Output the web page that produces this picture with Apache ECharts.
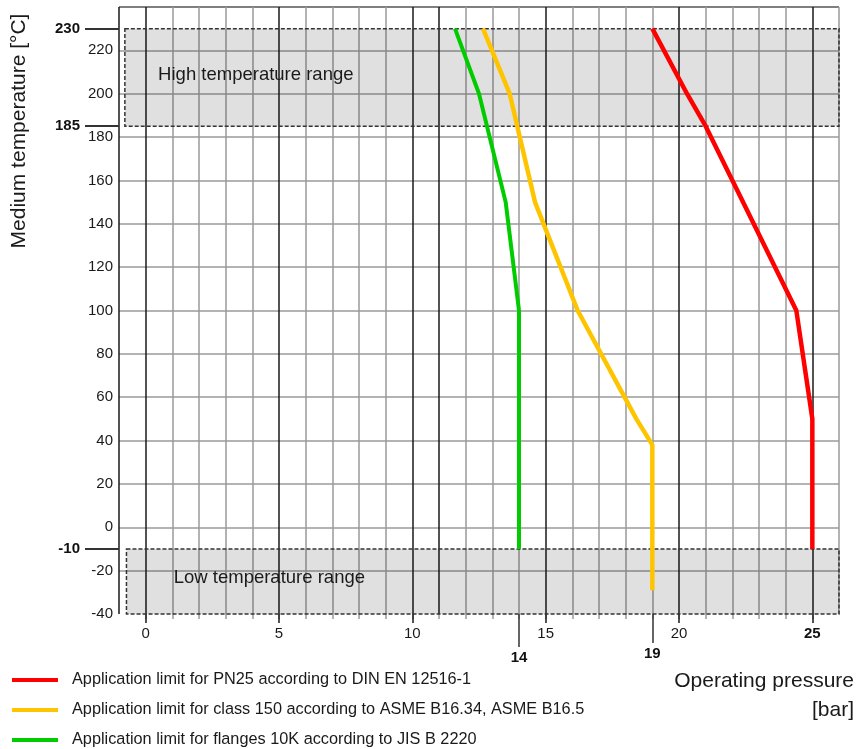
<!DOCTYPE html>
<html><head><meta charset="utf-8">
<script src="https://cdn.jsdelivr.net/npm/echarts@6/dist/echarts.min.js"></script>
<style>html,body{margin:0;padding:0;background:#fff}#c{width:856px;height:749px}</style>
</head><body><div id="c"></div>
<script>
// ---- data ----
const seriesNames = [
  'Application limit for PN25 according to DIN EN 12516-1',
  'Application limit for class 150 according to ASME B16.34, ASME B16.5',
  'Application limit for flanges 10K according to JIS B 2220'
];
const pn25Temp = [-10, 50, 100, 150, 185, 200, 230];
const pn25Pres = [25, 25, 24.4, 22.4, 21, 20.3, 19];
const asmeTemp = [-29, 38, 50, 100, 150, 200, 230];
const asmePres = [19, 19, 18.4, 16.2, 14.6, 13.65, 12.65];
const jisTemp = [-10, 100, 150, 200, 230];
const jisPres = [14, 14, 13.5, 12.5, 11.6];
const xTickLabels = [0, 5, 10, 15, 20, 25];
const xBoldLabels = [25];
const xMarked14 = [14];
const xMarked19 = [19];
const yMarked = [230, 185, -10];
const highRange = [185, 230];
const lowRange = [-40, -10];
const bandLabels = ['High temperature range', 'Low temperature range'];
const yTitle = 'Medium temperature [°C]';
const xTitle = ['Operating pressure', '[bar]'];
const colors = ['#ff0000', '#ffc400', '#00cc00'];

// ---- chart ----
const FONT = '"Liberation Sans", Arial, Helvetica, sans-serif';
const xMin = -1, xMax = 26, yMin = -40, yMax = 240;
const darkV = [-1, 0, 5, 10, 11, 15, 20, 25];
const vColors = [];
for (let v = xMin; v <= xMax; v++) vColors.push(darkV.includes(v) ? '#1a1a1a' : '#9a9a9a');
const hColors = [];
for (let v = yMin; v <= yMax; v += 20) hColors.push(v === yMin ? 'rgba(0,0,0,0)' : (v === yMax ? '#555' : '#9a9a9a'));
const minorTicks = [];
for (let v = 0; v <= 25; v++) minorTicks.push(v);

const zip = (xs, ys) => xs.map((x, i) => [x, ys[i]]);

const chart = echarts.init(document.getElementById('c'), null, {renderer: 'canvas'});
const baseX = {type: 'value', min: xMin, max: xMax, position: 'bottom', gridIndex: 0,
  axisLine: {show: false, onZero: false}, splitLine: {show: false}, axisLabel: {show: false}, axisTick: {show: false}};
const baseY = {type: 'value', min: yMin, max: yMax, position: 'left', gridIndex: 0,
  axisLine: {show: false, onZero: false}, splitLine: {show: false}, axisLabel: {show: false}, axisTick: {show: false}};

chart.setOption({
  animation: false,
  textStyle: {fontFamily: FONT},
  grid: {left: 119, top: 7, width: 720, height: 607, containLabel: false, outerBoundsMode: 'none'},
  legend: {
    orient: 'vertical', left: 12, top: 672, height: 100, padding: 0, itemWidth: 46, itemHeight: 4, itemGap: 14,
    icon: 'rect', selectedMode: false,
    textStyle: {fontFamily: FONT, fontSize: 16.3, color: '#1a1a1a', lineHeight: 16, padding: [0, 0, 0, 9]},
    data: seriesNames
  },
  xAxis: [
    Object.assign({}, baseX, {interval: 1, splitLine: {show: true, lineStyle: {color: vColors, width: 1.5}}}),
    Object.assign({}, baseX, {axisTick: {show: true, customValues: minorTicks, length: 5, lineStyle: {color: '#9a9a9a', width: 1.5}}}),
    Object.assign({}, baseX, {
      axisTick: {show: true, customValues: xTickLabels, length: 9, lineStyle: {color: '#1a1a1a', width: 1.5}},
      axisLabel: {show: true, customValues: xTickLabels, margin: 12, fontSize: 15, color: '#1a1a1a', fontFamily: FONT,
        formatter: v => xBoldLabels.includes(v) ? '{b|' + v + '}' : String(v),
        rich: {b: {fontWeight: 'bold', fontSize: 15, color: '#111', fontFamily: FONT}}}
    }),
    Object.assign({}, baseX, {
      axisTick: {show: true, customValues: xMarked14, length: 33, lineStyle: {color: '#333', width: 1.5}},
      axisLabel: {show: true, customValues: xMarked14, margin: 36, fontSize: 15, fontWeight: 'bold', color: '#111', fontFamily: FONT}
    }),
    Object.assign({}, baseX, {
      axisTick: {show: true, customValues: xMarked19, length: 29, lineStyle: {color: '#333', width: 1.5}},
      axisLabel: {show: true, customValues: xMarked19, margin: 32, fontSize: 15, fontWeight: 'bold', color: '#111', fontFamily: FONT}
    })
  ],
  yAxis: [
    Object.assign({}, baseY, {interval: 20,
      splitLine: {show: true, lineStyle: {color: hColors, width: 1.5}},
      axisLabel: {show: true, margin: 6, fontSize: 15, color: '#1a1a1a', fontFamily: FONT, padding: [0, 0, 6, 0],
        formatter: v => v === yMax ? '' : String(v)}
    }),
    Object.assign({}, baseY, {
      axisTick: {show: true, inside: false, customValues: yMarked, length: 34, lineStyle: {color: '#333', width: 2}},
      axisLabel: {show: true, customValues: yMarked, margin: 39, fontSize: 15, fontWeight: 'bold', color: '#111', fontFamily: FONT}
    })
  ],
  series: [
    {name: seriesNames[0], type: 'line', data: zip(pn25Pres, pn25Temp), symbol: 'none', z: 3,
      color: colors[0], lineStyle: {width: 4.5, color: colors[0]}},
    {name: seriesNames[1], type: 'line', data: zip(asmePres, asmeTemp), symbol: 'none', z: 3,
      color: colors[1], lineStyle: {width: 4.5, color: colors[1]}},
    {name: seriesNames[2], type: 'line', data: zip(jisPres, jisTemp), symbol: 'none', z: 3,
      color: colors[2], lineStyle: {width: 4, color: colors[2]}},
    {name: 'bands', type: 'line', data: [], z: 6, silent: true,
      markArea: {
        silent: true,
        itemStyle: {color: 'rgba(0,0,0,0.12)', borderColor: '#333', borderWidth: 1.5, borderType: [4, 2]},
        label: {fontSize: 18.5, color: '#1a1a1a', fontFamily: FONT, align: 'left', verticalAlign: 'middle'},
        data: [
          [{xAxis: -0.78, yAxis: highRange[1], name: bandLabels[0], label: {position: [34, '47%']}},
           {xAxis: xMax, yAxis: highRange[0]}],
          [{xAxis: -0.72, yAxis: lowRange[1], name: bandLabels[1], label: {position: [48, '45%']}},
           {xAxis: xMax, yAxis: lowRange[0]}]
        ]
      }}
  ],
  graphic: [
    {type: 'text', x: 19, y: 131, rotation: Math.PI / 2,
      style: {text: yTitle, font: '21px ' + FONT, fill: '#1a1a1a', textAlign: 'center', textVerticalAlign: 'middle'}},
    {type: 'text', x: 854, y: 681,
      style: {text: xTitle[0], font: '21px ' + FONT, fill: '#1a1a1a', textAlign: 'right', textVerticalAlign: 'middle'}},
    {type: 'text', x: 854, y: 710,
      style: {text: xTitle[1], font: '21px ' + FONT, fill: '#1a1a1a', textAlign: 'right', textVerticalAlign: 'middle'}}
  ]
});
</script>
</body></html>
